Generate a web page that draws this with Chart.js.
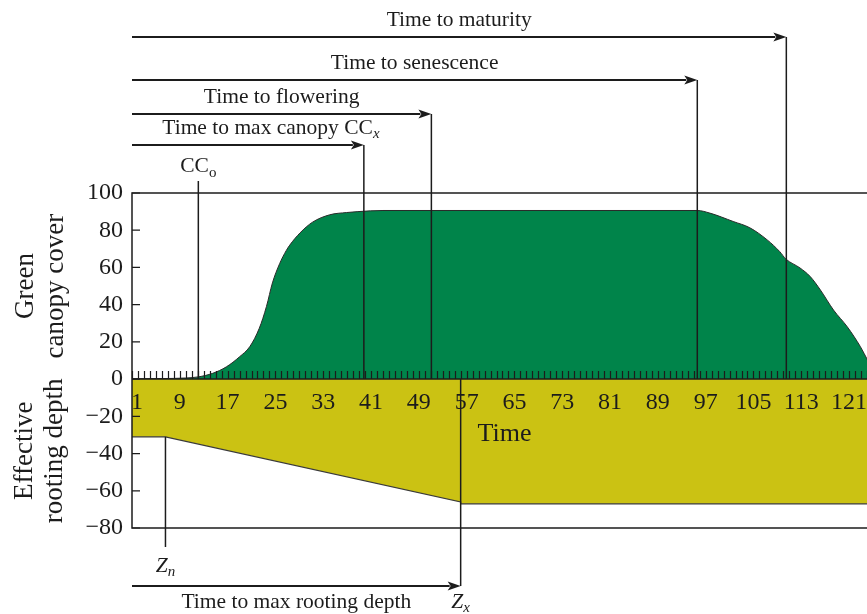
<!DOCTYPE html>
<html><head><meta charset="utf-8">
<script src="https://cdn.jsdelivr.net/npm/chart.js@4.4.1/dist/chart.umd.min.js"></script>
<style>html,body{margin:0;padding:0;background:#fff;}canvas{display:block;}</style>
</head><body>
<canvas id="c" width="867" height="614" style="width:867px;height:614px"></canvas>
<script>
// ---- data ----
const canopyDays  = [1, 6, 10, 12.1, 14.5, 16.8, 19, 20.7, 22.3, 23.5, 24.5, 25.7, 26.8, 27.4, 29.1, 31.2, 34.1, 36.9, 38.8, 43, 95.6, 97.7, 101.6, 104.4, 107.3, 109.4, 110.4, 112.8, 114.5, 116.2, 118.4, 120.7, 122.9, 124.1];
const canopyCover = [0.2, 0.3, 0.6, 1.2, 3.1, 6.6, 12.0, 17.4, 27.3, 39.0, 51.7, 62.0, 69.0, 72.0, 78.5, 84.3, 88.3, 89.5, 90.0, 90.6, 90.6, 89.2, 84.7, 81.3, 74.8, 68.5, 64.6, 59.7, 55.1, 47.9, 37.1, 28.1, 17.4, 10.2];
const rootDays  = [1, 6.6, 56, 56, 124];
const rootDepth = [-31, -31, -66, -67, -67];
const xTickLabels = [1, 9, 17, 25, 33, 41, 49, 57, 65, 73, 81, 89, 97, 105, 113, 121];
const yTickValues = [100, 80, 60, 40, 20, 0, -20, -40, -60, -80];
const stageNames = ['Time to max canopy CC', 'Time to flowering', 'Time to senescence', 'Time to maturity'];
const stageDays  = [39.8, 51.1, 95.6, 110.5];
const ccoDay = 12.1;
const znDay = 6.6;
const zxDay = 56;

// ---- styles ----
const INK = '#1c1c1c';
const GREEN = '#00844a';
const YELLOW = '#cbc213';
const SERIF = '"Liberation Serif", "Times New Roman", serif';
const stageArrowY = [145, 114, 80, 37];

function font(size, italic) { return (italic ? 'italic ' : '') + size + 'px ' + SERIF; }
function richText(ctx, parts, cx, base) {
  let w = 0;
  parts.forEach(p => { ctx.font = font(p.size, p.italic); w += ctx.measureText(p.t).width; });
  let xx = cx - w / 2;
  parts.forEach(p => {
    ctx.font = font(p.size, p.italic);
    ctx.textAlign = 'left'; ctx.textBaseline = 'alphabetic';
    ctx.fillText(p.t, xx, base + (p.dy || 0));
    xx += ctx.measureText(p.t).width;
  });
}
function arrow(ctx, x1, x2, yy) {
  const hl = 13, hw = 4.5;
  ctx.lineWidth = 1.8;
  ctx.beginPath(); ctx.moveTo(x1, yy); ctx.lineTo(x2 - hl + 2, yy); ctx.stroke();
  ctx.beginPath(); ctx.moveTo(x2, yy); ctx.lineTo(x2 - hl, yy - hw); ctx.lineTo(x2 - hl + 3, yy); ctx.lineTo(x2 - hl, yy + hw); ctx.closePath(); ctx.fill();
}

const overlay = {
  id: 'overlay',
  afterDatasetsDraw(chart) {
    const {ctx, chartArea: ca, scales: {x, y}} = chart;
    const y0 = y.getPixelForValue(0);
    ctx.save();
    ctx.strokeStyle = INK; ctx.fillStyle = INK;
    // daily tick marks on the time axis
    ctx.lineWidth = 1.2;
    ctx.beginPath();
    for (let d = Math.ceil(x.min); d <= x.max; d++) {
      const px = Math.round(x.getPixelForValue(d)) + 0.5;
      ctx.moveTo(px, y0); ctx.lineTo(px, y0 - 8);
    }
    ctx.stroke();
    // time-axis labels (drawn from the x scale's ticks, over the root-depth fill)
    ctx.font = font(24); ctx.textAlign = 'center'; ctx.textBaseline = 'alphabetic';
    x.ticks.forEach(t => {
      ctx.fillText(String(t.value), Math.max(x.getPixelForValue(t.value), ca.left + 5), y0 + 30);
    });
    // inner y ticks
    ctx.lineWidth = 1.2;
    ctx.beginPath();
    yTickValues.forEach(v => { const py = y.getPixelForValue(v); ctx.moveTo(ca.left, py); ctx.lineTo(ca.left + 8, py); });
    ctx.stroke();
    // frame and zero axis
    ctx.lineWidth = 1.5;
    ctx.beginPath();
    ctx.moveTo(ca.right, ca.top); ctx.lineTo(ca.left, ca.top); ctx.lineTo(ca.left, ca.bottom); ctx.lineTo(ca.right, ca.bottom);
    ctx.moveTo(ca.left, y0); ctx.lineTo(ca.right, y0);
    ctx.stroke();
    // stage arrows and verticals
    stageDays.forEach((d, i) => {
      const px = x.getPixelForValue(d);
      const ay = stageArrowY[i];
      arrow(ctx, ca.left, px, ay);
      ctx.lineWidth = 1.5;
      ctx.beginPath(); ctx.moveTo(px, ay); ctx.lineTo(px, y0); ctx.stroke();
      const mid = (ca.left + px) / 2;
      if (i === 0) {
        richText(ctx, [{t: stageNames[0], size: 21.5}, {t: 'x', size: 15, italic: true, dy: 4}], mid + 23, ay - 11);
      } else {
        richText(ctx, [{t: stageNames[i], size: 21.5}], mid, ay - 11);
      }
    });
    // CCo
    const pxo = x.getPixelForValue(ccoDay);
    ctx.lineWidth = 1.5;
    ctx.beginPath(); ctx.moveTo(pxo, 181); ctx.lineTo(pxo, y0); ctx.stroke();
    richText(ctx, [{t: 'CC', size: 21.5}, {t: 'o', size: 15, dy: 5}], pxo, 172);
    // Zn
    const pxn = x.getPixelForValue(znDay);
    ctx.beginPath(); ctx.moveTo(pxn, y.getPixelForValue(rootDepth[1])); ctx.lineTo(pxn, 547); ctx.stroke();
    richText(ctx, [{t: 'Z', size: 21.5, italic: true}, {t: 'n', size: 15, italic: true, dy: 4}], pxn, 572);
    // Zx
    const pxx = x.getPixelForValue(zxDay);
    ctx.beginPath(); ctx.moveTo(pxx, y0); ctx.lineTo(pxx, 586); ctx.stroke();
    arrow(ctx, ca.left, pxx, 586);
    richText(ctx, [{t: 'Time to max rooting depth', size: 21.5}], (ca.left + pxx) / 2, 608);
    richText(ctx, [{t: 'Z', size: 21.5, italic: true}, {t: 'x', size: 15, italic: true, dy: 4}], pxx, 608);
    // axis title "Time"
    ctx.font = font(26); ctx.textAlign = 'center'; ctx.textBaseline = 'alphabetic';
    ctx.fillText('Time', (ca.left + ca.right) / 2 + 5, 441);
    // y titles
    const drawRot = (lines, cyv, xs) => {
      const cy = y.getPixelForValue(cyv);
      lines.forEach((t, k) => {
        ctx.save(); ctx.translate(xs[k], cy); ctx.rotate(-Math.PI / 2);
        ctx.font = font(27); ctx.textAlign = 'center'; ctx.textBaseline = 'alphabetic';
        ctx.fillText(t, 0, 0); ctx.restore();
      });
    };
    drawRot(['Green', 'canopy cover'], 50, [33, 63]);
    drawRot(['Effective', 'rooting depth'], -38.5, [32, 62]);
    ctx.restore();
  }
};

new Chart(document.getElementById('c'), {
  type: 'line',
  data: {
    datasets: [
      {
        label: 'Green canopy cover',
        data: canopyDays.map((d, i) => ({x: d, y: canopyCover[i]})),
        borderColor: '#2a2a2a', borderWidth: 1, backgroundColor: GREEN,
        fill: 'origin', pointRadius: 0, cubicInterpolationMode: 'monotone'
      },
      {
        label: 'Effective rooting depth',
        data: rootDays.map((d, i) => ({x: d, y: rootDepth[i]})),
        borderColor: '#3a3a3a', borderWidth: 1.2, backgroundColor: YELLOW,
        fill: 'origin', pointRadius: 0, tension: 0
      }
    ]
  },
  options: {
    responsive: false, animation: false, devicePixelRatio: 1,
    layout: {autoPadding: false, padding: {top: 193, bottom: 86, left: 0, right: 0}},
    plugins: {legend: {display: false}, tooltip: {enabled: false}},
    scales: {
      x: {
        type: 'linear', min: 1, max: 124, position: {y: 0},
        grid: {display: false, drawTicks: false}, border: {display: false},
        afterBuildTicks: s => { s.ticks = xTickLabels.map(v => ({value: v})); },
        afterFit: s => { s.paddingLeft = 0; s.paddingRight = 0; },
        ticks: {display: false, autoSkip: false, maxRotation: 0}
      },
      y: {
        type: 'linear', min: -80, max: 100,
        grid: {display: false, drawTicks: false}, border: {display: false},
        afterBuildTicks: s => { s.ticks = yTickValues.map(v => ({value: v})); },
        afterFit: s => { s.width = 132; },
        ticks: {padding: 9, color: INK, font: {family: SERIF, size: 24},
          callback: v => (v < 0 ? '\u2212' + Math.abs(v) : String(v))}
      }
    }
  },
  plugins: [overlay]
});
</script>
</body></html>
